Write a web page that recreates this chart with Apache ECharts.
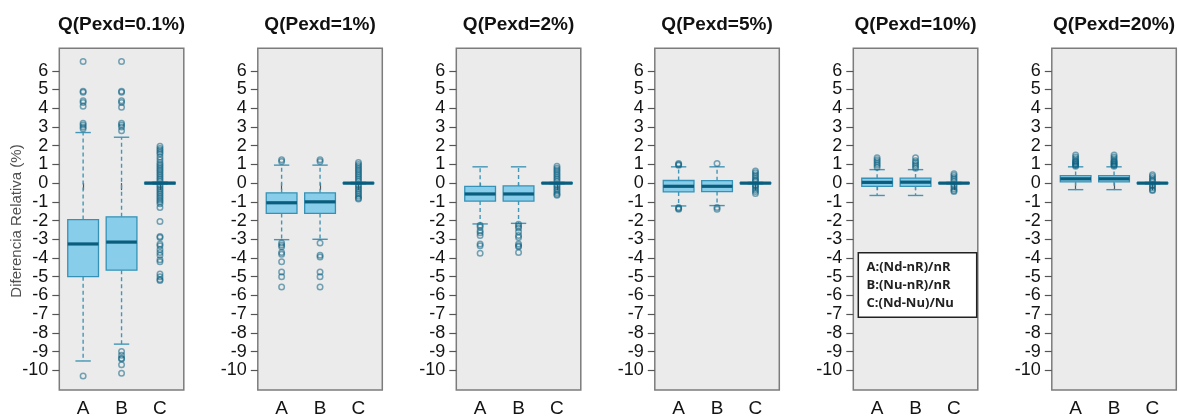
<!DOCTYPE html>
<html>
<head>
<meta charset="utf-8">
<script src="https://cdn.jsdelivr.net/npm/echarts@6/dist/echarts.min.js"></script>
<style>
  html, body { margin: 0; padding: 0; background: #ffffff; }
  #chart { width: 1179px; height: 418px; }
</style>
</head>
<body>
<div id="chart"></div>
<script>
// Categories and panel headings
const categories = ['A', 'B', 'C'];
const panelTitles = ['Q(Pexd=0.1%)', 'Q(Pexd=1%)', 'Q(Pexd=2%)', 'Q(Pexd=5%)', 'Q(Pexd=10%)', 'Q(Pexd=20%)'];
const yTicks = [-10, -9, -8, -7, -6, -5, -4, -3, -2, -1, 0, 1, 2, 3, 4, 5, 6];
const legendLines = ['A:(Nd-nR)/nR', 'B:(Nu-nR)/nR', 'C:(Nd-Nu)/Nu'];

// Box statistics per quantile: [lower whisker, Q1, median, Q3, upper whisker] for A, B, C
const stats01 = [[-9.5, -5.0, -3.25, -1.95, 2.7], [-8.6, -4.65, -3.15, -1.8, 2.45], [-0.05, -0.04, 0, 0.04, 0.05]];
const stats02 = [[-3.02, -1.62, -1.05, -0.52, 0.96], [-3.0, -1.62, -1.0, -0.52, 0.96], [-0.04, -0.03, 0, 0.03, 0.04]];
const stats03 = [[-2.18, -0.96, -0.58, -0.17, 0.87], [-2.15, -0.96, -0.58, -0.15, 0.87], [-0.04, -0.03, 0, 0.03, 0.04]];
const stats04 = [[-1.22, -0.47, -0.17, 0.14, 0.87], [-1.2, -0.45, -0.17, 0.13, 0.87], [-0.04, -0.03, 0, 0.03, 0.04]];
const stats05 = [[-0.66, -0.17, 0.04, 0.26, 0.72], [-0.66, -0.17, 0.05, 0.27, 0.72], [-0.04, -0.03, 0, 0.03, 0.04]];
const stats06 = [[-0.35, 0.07, 0.23, 0.40, 0.87], [-0.35, 0.07, 0.23, 0.40, 0.87], [-0.04, -0.03, 0, 0.03, 0.04]];

// Outlying values per quantile, for A, B, C
const out01 = [
  [6.5, 4.9, 4.85, 4.4, 4.3, 4.1, 3.2, 3.1, 3.0, 2.9, -10.3],
  [6.5, 4.9, 4.85, 4.4, 4.3, 4.05, 3.2, 3.1, 3.0, 2.8, -9.0, -9.2, -9.35, -9.4, -9.7, -10.15],
  [1.97, 1.85, 1.75, 1.65, 1.55, 1.4, 1.25, 1.1, 1.0, 0.9, 0.8, 0.7, 0.6, 0.5, 0.4, 0.3, 0.2, 0.1,
   -0.1, -0.2, -0.3, -0.4, -0.5, -0.6, -0.7, -0.8, -0.9, -1.0, -1.1, -1.3, -2.05, -2.85, -2.9,
   -3.25, -3.35, -3.55, -3.7, -3.85, -4.1, -4.2, -4.85, -5.0, -5.15, -5.2]
];
const out02 = [
  [1.25, 1.15, -3.2, -3.3, -3.4, -3.7, -3.8, -4.2, -4.75, -5.0, -5.55],
  [1.25, 1.15, -3.2, -3.85, -3.95, -4.75, -5.0, -5.55],
  [1.1, 1.0, 0.9, 0.8, 0.7, 0.6, 0.5, 0.4, 0.3, 0.2, 0.1, -0.1, -0.2, -0.3, -0.4, -0.5, -0.6, -0.7, -0.8, -0.85]
];
const out03 = [
  [-2.25, -2.35, -2.55, -2.65, -2.8, -3.25, -3.35, -3.75],
  [-2.2, -2.3, -2.4, -2.6, -2.8, -2.9, -3.25, -3.35, -3.4, -3.7],
  [0.9, 0.8, 0.7, 0.6, 0.5, 0.4, 0.3, 0.2, 0.1, -0.1, -0.2, -0.3, -0.4, -0.5, -0.6, -0.65]
];
const out04 = [
  [1.05, 1.0, 0.95, -1.3, -1.35, -1.4],
  [1.05, -1.3, -1.4],
  [0.65, 0.55, 0.45, 0.35, 0.25, 0.15, 0.1, -0.1, -0.15, -0.25, -0.35, -0.45, -0.55]
];
const out05 = [
  [0.85, 0.95, 1.05, 1.15, 1.25, 1.35],
  [0.8, 0.9, 1.0, 1.1, 1.2, 1.35],
  [0.5, 0.4, 0.3, 0.2, 0.1, -0.1, -0.2, -0.3, -0.4, -0.45]
];
const out06 = [
  [0.9, 0.95, 1.0, 1.05, 1.1, 1.15, 1.2, 1.3, 1.4, 1.5],
  [0.9, 0.95, 1.0, 1.05, 1.1, 1.15, 1.2, 1.3, 1.4, 1.5],
  [0.45, 0.35, 0.25, 0.15, 0.1, -0.1, -0.15, -0.25, -0.35, -0.4]
];

const allStats = [stats01, stats02, stats03, stats04, stats05, stats06];
const allOutliers = [out01, out02, out03, out04, out05, out06];

// Layout and styling
const PANEL_LEFT = 59.3, PANEL_STEP = 198.5, PANEL_WIDTH = 124.5;
const PANEL_TOP = 48.3, PANEL_HEIGHT = 348.4;
const Y_MIN = -11.05, Y_MAX = 7.2, X_MIN = 0.38, X_MAX = 3.62;
const BOX_WIDTH = 0.8;
const FILL = '#88cdea', EDGE = '#3592b6', MEDIAN = '#0b5d7d', WHISKER = '#4596b6';
const FONT = 'Liberation Sans, Arial, sans-serif';

function renderBox(params, api) {
  const x = api.value(0);
  const lo = api.coord([x, api.value(1)]);
  const q1 = api.coord([x, api.value(2)]);
  const med = api.coord([x, api.value(3)]);
  const q3 = api.coord([x, api.value(4)]);
  const hi = api.coord([x, api.value(5)]);
  const half = api.size([BOX_WIDTH, 0])[0] / 2;
  const cap = half / 2;
  const cx = lo[0];
  const dashed = { stroke: WHISKER, lineWidth: 1.4, lineDash: [4, 3] };
  const solid = { stroke: WHISKER, lineWidth: 1.4 };
  return {
    type: 'group',
    children: [
      { type: 'line', shape: { x1: cx, y1: q3[1], x2: cx, y2: hi[1] }, style: dashed },
      { type: 'line', shape: { x1: cx, y1: q1[1], x2: cx, y2: lo[1] }, style: dashed },
      { type: 'line', shape: { x1: cx - cap, y1: hi[1], x2: cx + cap, y2: hi[1] }, style: solid },
      { type: 'line', shape: { x1: cx - cap, y1: lo[1], x2: cx + cap, y2: lo[1] }, style: solid },
      { type: 'rect', shape: { x: cx - half, y: q3[1], width: half * 2, height: q1[1] - q3[1] },
        style: { fill: FILL, stroke: EDGE, lineWidth: 1.3 } },
      { type: 'line', shape: { x1: cx - half, y1: med[1], x2: cx + half, y2: med[1] },
        style: { stroke: MEDIAN, lineWidth: 3.2 } }
    ]
  };
}

const grids = [], xAxes = [], yAxes = [], series = [], graphics = [];

panelTitles.forEach((title, i) => {
  const left = PANEL_LEFT + i * PANEL_STEP;
  grids.push({
    left: left, top: PANEL_TOP, width: PANEL_WIDTH, height: PANEL_HEIGHT,
    show: true, backgroundColor: '#ebebeb', borderColor: '#7c7c7c', borderWidth: 1.5
  });
  xAxes.push({
    type: 'value', gridIndex: i, min: X_MIN, max: X_MAX,
    splitLine: { show: false }, axisLine: { show: false },
    axisTick: { show: true, length: 7, customValues: [1, 2, 3], lineStyle: { color: '#555', width: 1.2 } },
    axisLabel: {
      customValues: [1, 2, 3], margin: 9, fontSize: 19, color: '#141414', fontFamily: FONT,
      showMinLabel: true, showMaxLabel: true,
      formatter: v => categories[Math.round(v) - 1]
    }
  });
  yAxes.push({
    type: 'value', gridIndex: i, min: Y_MIN, max: Y_MAX,
    splitLine: { show: false }, axisLine: { show: false },
    axisTick: { show: true, length: 7, customValues: yTicks, lineStyle: { color: '#555', width: 1.2 } },
    axisLabel: {
      customValues: yTicks, margin: 11, fontSize: 18, color: '#141414', fontFamily: FONT,
      showMinLabel: true, showMaxLabel: true
    }
  });
  series.push({
    type: 'custom', xAxisIndex: i, yAxisIndex: i,
    renderItem: renderBox,
    encode: { x: 0, y: [1, 2, 3, 4, 5] },
    data: allStats[i].map((s, k) => [k + 1].concat(s)),
    silent: true, z: 2
  });
  series.push({
    type: 'scatter', xAxisIndex: i, yAxisIndex: i,
    symbol: 'circle', symbolSize: 5.5,
    itemStyle: { color: 'rgba(0,0,0,0)', borderColor: 'rgba(10,96,130,0.68)', borderWidth: 1.5 },
    data: allOutliers[i].flatMap((vals, k) => vals.map(v => [k + 1, v])),
    silent: true, z: 3
  });
  graphics.push({
    type: 'text', x: left + PANEL_WIDTH / 2, y: 25,
    style: { text: title, fontSize: 19, fontWeight: 'bold', fontFamily: FONT, fill: '#111',
             align: 'center', verticalAlign: 'middle' }
  });
});

// Shared y-axis caption
graphics.push({
  type: 'text', x: 17, y: 221, rotation: Math.PI / 2,
  style: { text: 'Diferencia Relativa (%)', fontSize: 15, fontFamily: FONT, fill: '#505050',
           align: 'center', verticalAlign: 'middle' }
});

// Key for the A, B, C ratios
graphics.push({
  type: 'rect', shape: { x: 858.3, y: 252.7, width: 118.4, height: 64.6 },
  style: { fill: '#ffffff', stroke: '#222', lineWidth: 1.5 }, z: 10
});
legendLines.forEach((line, k) => {
  graphics.push({
    type: 'text', x: 866.5, y: 267 + k * 18, z: 11,
    style: { text: line, fontSize: 13, fontWeight: 'bold', fontFamily: 'Open Sans, sans-serif', fill: '#222',
             align: 'left', verticalAlign: 'middle' }
  });
});

const chart = echarts.init(document.getElementById('chart'), null, { renderer: 'canvas' });
chart.setOption({
  animation: false,
  grid: grids,
  xAxis: xAxes,
  yAxis: yAxes,
  series: series,
  graphic: graphics
});
</script>
</body>
</html>
